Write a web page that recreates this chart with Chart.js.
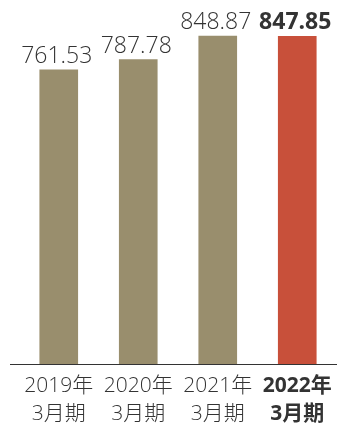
<!DOCTYPE html>
<html>
<head>
<meta charset="utf-8">
<script src="https://cdn.jsdelivr.net/npm/chart.js@4"></script>
<style>
  html, body { margin: 0; padding: 0; background: #fff; }
  #wrap { width: 337px; height: 427px; position: relative; }
</style>
</head>
<body>
<div id="wrap"><canvas id="chart"></canvas></div>
<script>
const yearLabels = ["2019年", "2020年", "2021年", "2022年"];
const periodLabels = ["3月期", "3月期", "3月期", "3月期"];
const values = [761.53, 787.78, 848.87, 847.85];
const highlight = [false, false, false, true];

const FONT = '"Open Sans", "Noto Sans CJK JP", sans-serif';
const tan = "#998e6d";
const red = "#c8503a";
const ink = "#333333";

const valueLabels = {
  id: "valueLabels",
  afterDatasetsDraw(chart) {
    const ctx = chart.ctx;
    const meta = chart.getDatasetMeta(0);
    ctx.save();
    ctx.fillStyle = ink;
    ctx.textAlign = "center";
    ctx.textBaseline = "alphabetic";
    meta.data.forEach((bar, i) => {
      ctx.font = (highlight[i] ? "bold " : "300 ") + "23px " + FONT;
      ctx.fillText(values[i].toFixed(2), bar.x - 2, bar.y - 7);
    });
    // baseline
    const y = chart.scales.y.getPixelForValue(0);
    ctx.strokeStyle = ink;
    ctx.lineWidth = 1;
    ctx.beginPath();
    ctx.moveTo(10, Math.round(y) + 0.5);
    ctx.lineTo(337, Math.round(y) + 0.5);
    ctx.stroke();
    ctx.restore();
  }
};

new Chart(document.getElementById("chart"), {
  type: "bar",
  data: {
    labels: yearLabels.map((y, i) => [y, periodLabels[i]]),
    datasets: [{
      data: values,
      backgroundColor: highlight.map(h => h ? red : tan),
      barThickness: 38
    }]
  },
  options: {
    responsive: true,
    maintainAspectRatio: false,
    animation: false,
    layout: { padding: { left: 19, right: 0, top: 0, bottom: 0 } },
    plugins: { legend: { display: false }, tooltip: { enabled: false } },
    scales: {
      y: { display: false, min: 0, max: 942 },
      x: {
        grid: { display: false },
        border: { display: false },
        afterFit: s => { s.height = 63; },
        ticks: {
          padding: 0,
          color: ink,
          font: ctx => ({
            family: FONT,
            size: 21,
            weight: highlight[ctx.index] ? "bold" : "300",
            lineHeight: 1.33
          })
        }
      }
    }
  },
  plugins: [valueLabels]
});
</script>
</body>
</html>
